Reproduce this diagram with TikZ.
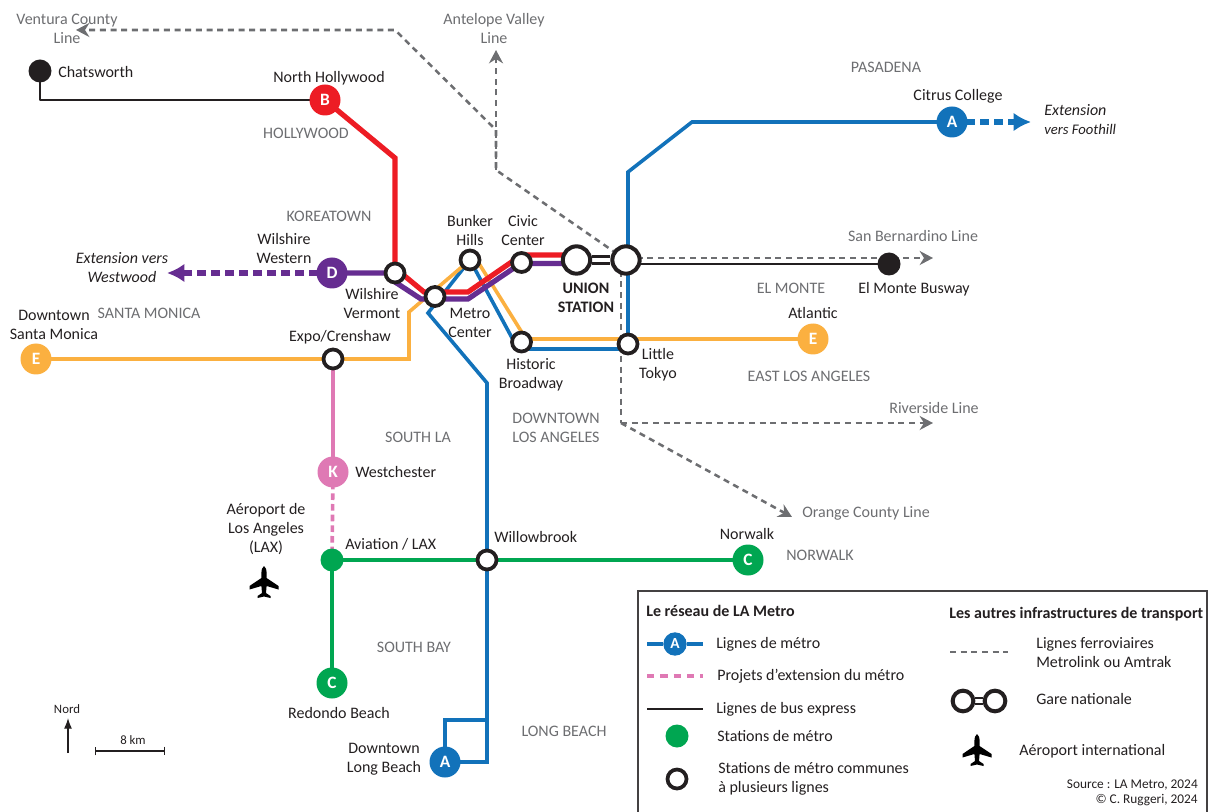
\documentclass[tikz,border=0pt]{standalone}
\usepackage{fontspec}
\setmainfont{Carlito}
\usetikzlibrary{arrows.meta, backgrounds}
\definecolor{metroblue}{HTML}{1272BA}
\definecolor{metrored}{HTML}{ED1C24}
\definecolor{metropurple}{HTML}{662D91}
\definecolor{metroorange}{HTML}{FBB040}
\definecolor{metrogreen}{HTML}{00A651}
\definecolor{metropink}{HTML}{DF79B4}
\definecolor{inkblack}{HTML}{231F20}
\definecolor{railgrey}{HTML}{6D6E71}
\tikzset{
  linebadge/.style={circle, fill=#1, text=white, font=\fontsize{13}{13}\selectfont\bfseries, minimum size=23.25pt, inner sep=0pt},
  sharedring/.style={circle, draw=inkblack, fill=white, line width=2.8pt, minimum size=14.25pt, inner sep=0pt},
  hubring/.style={circle, draw=inkblack, fill=white, line width=3pt, minimum size=20.5pt, inner sep=0pt},
  hublink/.style={draw=inkblack, line width=2pt, double=white, double distance=3.4pt},
  busdot/.style={circle, fill=inkblack, minimum size=17.25pt, inner sep=0pt},
  metrodot/.style={circle, fill=metrogreen, minimum size=17.25pt, inner sep=0pt},
  stationname/.style={text=inkblack, align=center, inner sep=0pt},
  placename/.style={text=railgrey, align=center, inner sep=0pt},
  railway/.style={draw=railgrey, line width=1.9pt, dash pattern=on 4.5pt off 3.5pt},
  railarrow/.style={railway, -{Stealth[length=10pt,width=10.5pt]}},
  metroline/.style={draw=#1, line width=2.7pt},
  widemetro/.style={draw=#1, line width=3.9pt},
  busline/.style={draw=inkblack, line width=2.2pt},
  futureline/.style={widemetro=#1, dash pattern=on 6.5pt off 4pt, -{Latex[length=13pt,width=14pt]}},
  planeicon/.pic={
    \fill[black] (0,-16) .. controls (2,-15) and (2.6,-12) .. (2.6,-8) -- (2.6,-4) -- (14.5,4) -- (14.5,7.5) -- (2.6,4) -- (2,11) -- (6.5,14) -- (6.5,16) -- (0,14.5) -- (-6.5,16) -- (-6.5,14) -- (-2,11) -- (-2.6,4) -- (-14.5,7.5) -- (-14.5,4) -- (-2.6,-4) -- (-2.6,-8) .. controls (-2.6,-12) and (-2,-15) .. (0,-16) -- cycle;
  }
}
\begin{document}
\begin{tikzpicture}[x=0.75pt, y=-0.75pt, every node/.style={font=\fontsize{12}{14.25}\selectfont}]
  \useasboundingbox (0,0) rectangle (1212,812);

  \node [busdot] (chatsworth) at (40,71) {};
  \node [busdot] (elmontebus) at (889,264) {};
  \node [linebadge=metrored] (northhollywood) at (325,100) {B};
  \node [linebadge=metroblue] (citrus) at (952,122) {A};
  \node [linebadge=metropurple] (wilwestern) at (332,273) {D};
  \node [linebadge=metroorange] (santamonica) at (36,359) {E};
  \node [linebadge=metroorange] (atlantic) at (813,339) {E};
  \node [linebadge=metropink] (westchester) at (333,472) {K};
  \node [linebadge=metrogreen] (norwalk) at (748,560) {C};
  \node [linebadge=metrogreen] (redondo) at (332,683) {C};
  \node [linebadge=metroblue] (longbeach) at (445,762) {A};
  \node [metrodot] (aviation) at (332,560) {};
  \node [sharedring] (wilvermont) at (395,273) {};
  \node [sharedring] (metrocenter) at (435,296.5) {};
  \node [sharedring] (bunker) at (470,260) {};
  \node [sharedring] (civic) at (521.5,262.5) {};
  \node [sharedring] (historic) at (521.5,342) {};
  \node [sharedring] (littletokyo) at (628,344) {};
  \node [sharedring] (expo) at (333,359) {};
  \node [sharedring] (willowbrook) at (487,560) {};
  \node [hubring] (unionwest) at (576.5,260) {};
  \node [hubring] (unioneast) at (626,260) {};

  \coordinate (venturaend) at (76,30);
  \coordinate (venturabend) at (395,30);
  \coordinate (antelopeend) at (496,50);
  \coordinate (railfork) at (496,130);
  \coordinate (railbend) at (496,170);
  \coordinate (railsouth) at (621,423);
  \coordinate (riversideend) at (933,423);
  \coordinate (orangeend) at (792,517);
  \coordinate (bernardinostart) at (626,258);
  \coordinate (bernardinoend) at (933,258);
  \coordinate (busstart) at (626,264);
  \coordinate (foothillend) at (1031,122);
  \coordinate (westwoodend) at (167,273);
  \coordinate (chatsbend) at (40,100);
  \coordinate (redbend) at (395,158);
  \coordinate (bluebend) at (692,122);
  \coordinate (bluedrop) at (628,172);
  \coordinate (bluekink) at (428,313);
  \coordinate (bluefall) at (487,383);
  \coordinate (bluecorner) at (487,762);
  \coordinate (blueloop) at (487,720);
  \coordinate (blueloopb) at (445,720);
  \coordinate (bluelow) at (518,349);
  \coordinate (bluelowend) at (628,349);
  \coordinate (orangeup) at (409,359);
  \coordinate (orangekink) at (409,312);
  \coordinate (orangeleave) at (478,262);
  \coordinate (orangeturn) at (526,339);

  \begin{pgfonlayer}{background}
    \draw [railarrow] (railsouth) -- (riversideend);
    \draw [railarrow] (railsouth) -- (orangeend);
    \draw [railway] (unioneast.center -| railsouth) -- (railsouth);
    \draw [railarrow] (railbend) -- (railfork) -- (antelopeend);
    \draw [railarrow] (unioneast.center) -- (railbend) -- (railfork) -- (venturabend) -- (venturaend);
    \draw [railarrow] (bernardinostart) -- (bernardinoend);
    \draw [busline, line join=round] (chatsworth.center) -- (chatsbend) -- (northhollywood.center);
    \draw [busline] (busstart) -- (elmontebus.center);
    \draw [metroline=metroblue] (citrus.center) -- (bluebend) -- (bluedrop) -- (littletokyo.center);
    \draw [metroline=metroblue] (bunker.center) -- (bluelow) -- (bluelowend);
    \draw [metroline=metroblue] (bunker.center) -- (bluekink) -- (bluefall) -- (bluecorner) -- (longbeach.center);
    \draw [metroline=metroblue] (longbeach.center) -- (blueloopb) -- (blueloop);
    \draw [metroline=metroorange] (santamonica.center) -- (orangeup) -- (orangekink) -- (bunker.center);
    \draw [metroline=metroorange] (orangeleave) -- (orangeturn) -- (atlantic.center);
    \draw [widemetro=metrored] (northhollywood.center) -- (redbend) -- (395,268) -- (424,292) -- (468,292) -- (513,261) -- (521,255) -- (576,255);
    \draw [widemetro=metropurple] (wilwestern.center) -- (wilvermont.center) -- (395,282) -- (421,299) -- (468,299) -- (514,268) -- (522,263.5) -- (576,263.5);
    \draw [metroline=metropink] (expo.center) -- (westchester.center);
    \draw [metroline=metropink, dash pattern=on 5pt off 3pt] (westchester.center) -- (aviation.center);
    \draw [metroline=metrogreen] (aviation.center) -- (norwalk.center);
    \draw [metroline=metrogreen] (aviation.center) -- (redondo.center);
    \draw [hublink] (unionwest) -- (unioneast);
    \draw [futureline=metroblue] (citrus.center) -- (foothillend);
    \draw [futureline=metropurple] (wilwestern.center) -- (westwoodend);
  \end{pgfonlayer}

  \node [placename] (venturalab) at (67,28.5) {Ventura County\\Line};
  \node [placename] (antelopelab) at (494,28.5) {Antelope Valley\\Line};
  \node [placename] (hollywoodlab) at (306,133) {HOLLYWOOD};
  \node [placename] (pasadenalab) at (886,67) {PASADENA};
  \node [placename] (koreatownlab) at (329,216) {KOREATOWN};
  \node [placename] (bernardinolab) at (913,236) {San Bernardino Line};
  \node [placename] (elmontelab) at (791,288) {EL MONTE};
  \node [placename] (santamonicalab) at (149,313) {SANTA MONICA};
  \node [placename] (eastlalab) at (809,376) {EAST LOS ANGELES};
  \node [placename] (downtownlab) at (556,427.5) {DOWNTOWN\\LOS ANGELES};
  \node [placename] (riversidelab) at (934,408) {Riverside Line};
  \node [placename] (southlalab) at (418,437) {SOUTH LA};
  \node [placename, anchor=west] (orangelab) at (802,513) {Orange County Line};
  \node [placename] (norwalkplace) at (820,555) {NORWALK};
  \node [placename] (southbaylab) at (414,647) {SOUTH BAY};
  \node [placename] (longbeachplace) at (564,731) {LONG BEACH};

  \node [stationname, anchor=west] (chatsworthlab) at (58,72) {Chatsworth};
  \node [stationname] (hollywoodname) at (329,78) {North Hollywood};
  \node [stationname] (citruslab) at (958,96) {Citrus College};
  \node [stationname, align=left, anchor=west, font=\fontsize{12}{14.25}\selectfont\itshape] (foothilllab) at (1044,119.5) {Extension\\{\fontsize{11}{14.25}\selectfont vers Foothill}};
  \node [stationname, font=\fontsize{12}{14.25}\selectfont\itshape] (westwoodlab) at (122,268) {Extension vers\\Westwood};
  \node [stationname] (westernlab) at (284,248.5) {Wilshire\\Western};
  \node [stationname] (vermontlab) at (372,303.5) {Wilshire\\Vermont};
  \node [stationname] (bunkerlab) at (470,230.5) {Bunker\\Hills};
  \node [stationname] (civiclab) at (523,231) {Civic\\Center};
  \node [stationname, font=\fontsize{12}{14.25}\selectfont\bfseries] (unionlab) at (586,297.5) {UNION\\STATION};
  \node [stationname] (busnamelab) at (914,289) {El Monte Busway};
  \node [stationname] (atlanticlab) at (813,313) {Atlantic};
  \node [stationname] (santamonicaname) at (54,324.5) {Downtown\\Santa Monica};
  \node [stationname] (expolab) at (340,337) {Expo/Crenshaw};
  \node [stationname] (metrocenterlab) at (470,322.5) {Metro\\Center};
  \node [stationname] (historiclab) at (531,375) {Historic\\Broadway};
  \node [stationname] (tokyolab) at (658,364.5) {Little\\Tokyo};
  \node [stationname, anchor=west] (westchesterlab) at (355,472) {Westchester};
  \node [stationname] (laxlab) at (266,529) {Aéroport de\\Los Angeles\\(LAX)};
  \node [stationname, anchor=west] (aviationlab) at (345,544) {Aviation / LAX};
  \node [stationname, anchor=west] (willowbrooklab) at (494,537) {Willowbrook};
  \node [stationname] (norwalklab) at (747,534) {Norwalk};
  \node [stationname] (redondolab) at (339,713) {Redondo Beach};
  \node [stationname] (longbeachlab) at (384,759) {Downtown\\Long Beach};
  \pic at (264,582) {planeicon};

  \node [stationname, font=\fontsize{9.6}{10}\selectfont] (nordlab) at (67,709) {Nord};
  \coordinate (nordfoot) at (68,753);
  \coordinate (nordtip) at (68,718);
  \draw [inkblack, line width=1pt, -{Latex[length=8pt,width=6pt]}] (nordfoot) -- (nordtip);
  \node [stationname, font=\fontsize{9.6}{10}\selectfont] (scalelab) at (133,740) {8 km};
  \coordinate (scaleleft) at (95,751);
  \coordinate (scaleright) at (165,751);
  \draw [inkblack, line width=0.9pt, |-|] (scaleleft) -- (scaleright);

  \coordinate (boxbl) at (638,813);
  \coordinate (boxtl) at (638,591);
  \coordinate (boxtr) at (1207,591);
  \coordinate (boxbr) at (1207,813);
  \draw [inkblack!85, line width=1.1pt] (boxbl) -- (boxtl) -- (boxtr) -- (boxbr);

  \node [stationname, anchor=west, font=\fontsize{12}{14.25}\selectfont\bfseries] (legendmetro) at (646,611) {Le réseau de LA Metro};
  \node [stationname, anchor=west, font=\fontsize{12}{14.25}\selectfont\bfseries] (legendother) at (949,614) {Les autres infrastructures de transport};
  \node [linebadge=metroblue, minimum size=17.5pt, font=\fontsize{11.5}{12}\selectfont\bfseries] (legendbadge) at (675,644) {A};
  \coordinate (legaleft) at (647,644);
  \coordinate (legaright) at (703,644);
  \begin{pgfonlayer}{background}
    \draw [metroline=metroblue] (legaleft) -- (legendbadge) -- (legaright);
  \end{pgfonlayer}
  \node [stationname, anchor=west] (legendlines) at (716,644) {Lignes de métro};
  \coordinate (legpleft) at (647,676);
  \coordinate (legpright) at (703,676);
  \draw [metroline=metropink, dash pattern=on 5.5pt off 4.5pt] (legpleft) -- (legpright);
  \node [stationname, anchor=west] (legendproj) at (717,676) {Projets d’extension du métro};
  \coordinate (legbleft) at (647,709);
  \coordinate (legbright) at (703,709);
  \draw [busline] (legbleft) -- (legbright);
  \node [stationname, anchor=west] (legendbus) at (716,709) {Lignes de bus express};
  \node [metrodot] (legenddot) at (677,736) {};
  \node [stationname, anchor=west] (legenddotlab) at (717,736) {Stations de métro};
  \node [sharedring] (legendring) at (677,779) {};
  \node [stationname, anchor=west, align=left] (legendringlab) at (718,778.5) {Stations de métro communes\\à plusieurs lignes};
  \coordinate (legrleft) at (950,652);
  \coordinate (legrright) at (1008,652);
  \draw [railway] (legrleft) -- (legrright);
  \node [stationname, anchor=west, align=left] (legendrail) at (1036,652.5) {Lignes ferroviaires\\Metrolink ou Amtrak};
  \node [sharedring, minimum size=15.5pt, line width=3pt] (legendhubw) at (963,701) {};
  \node [sharedring, minimum size=15.5pt, line width=3pt] (legendhube) at (995,701) {};
  \begin{pgfonlayer}{background}
    \draw [hublink, double distance=2.5pt, line width=1.6pt] (legendhubw) -- (legendhube);
  \end{pgfonlayer}
  \node [stationname, anchor=west] (legendhub) at (1036,699) {Gare nationale};
  \pic at (977,750) {planeicon};
  \node [stationname, anchor=west] (legendplane) at (1019,751) {Aéroport international};
  \node [stationname, anchor=east, align=right, font=\fontsize{10}{11.25}\selectfont] (legendsource) at (1198,792.5) {Source : LA Metro, 2024\\© C. Ruggeri, 2024};
\end{tikzpicture}
\end{document}
